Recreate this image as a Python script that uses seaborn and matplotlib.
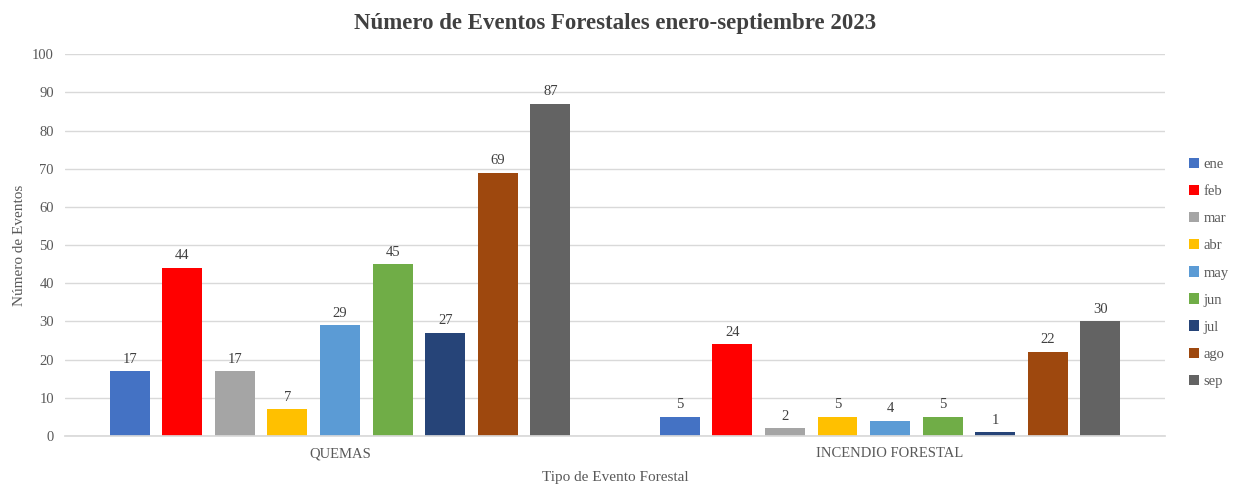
import matplotlib
matplotlib.use("Agg")
import matplotlib.pyplot as plt
import seaborn as sns
import pandas as pd

categories = ["QUEMAS", "INCENDIO FORESTAL"]
months = ["ene", "feb", "mar", "abr", "may", "jun", "jul", "ago", "sep"]
quemas = [17, 44, 17, 7, 29, 45, 27, 69, 87]
incendio = [5, 24, 2, 5, 4, 5, 1, 22, 30]
colors = ["#4472C4", "#FF0000", "#A5A5A5", "#FFC000", "#5B9BD5",
          "#70AD47", "#264478", "#9E480E", "#636363"]

rows = []
for m, q, i in zip(months, quemas, incendio):
    rows.append({"Tipo": categories[0], "Mes": m, "Valor": q})
    rows.append({"Tipo": categories[1], "Mes": m, "Valor": i})
df = pd.DataFrame(rows)

sns.set_theme(style="white")
plt.rcParams["font.family"] = ["Liberation Serif", "DejaVu Serif"]

fig = plt.figure(figsize=(12.36, 4.88), dpi=100)
ax = fig.add_axes([0.0526, 0.1066, 0.89, 0.7824])

sns.barplot(data=df, x="Tipo", y="Valor", hue="Mes", order=categories,
            hue_order=months, palette=colors, width=0.86, gap=0.24,
            saturation=1, linewidth=0, ax=ax, legend=True)

for cont in ax.containers:
    ax.bar_label(cont, padding=4, fontsize=10.5, color="#404040")

ax.set_ylim(0, 100)
ax.set_yticks(range(0, 101, 10))
ax.yaxis.grid(True, color="#D9D9D9", linewidth=1)
ax.set_axisbelow(True)
for s in ["top", "right", "left"]:
    ax.spines[s].set_visible(False)
ax.spines["bottom"].set_color("#D9D9D9")
ax.tick_params(axis="both", length=0, labelsize=10.5, labelcolor="#595959", pad=8)
ax.set_xlabel("Tipo de Evento Forestal", fontsize=11, color="#595959", labelpad=8)
ax.set_ylabel("Número de Eventos", fontsize=11, color="#595959", labelpad=4)
ax.set_title("Número de Eventos Forestales enero-septiembre 2023",
             fontsize=16.5, fontweight="bold", color="#404040", pad=18)

leg = ax.legend(loc="center left", bbox_to_anchor=(1.01, 0.427), frameon=False,
                fontsize=10.5, handlelength=0.7, handleheight=0.7,
                handletextpad=0.3, labelspacing=0.95)
for t in leg.get_texts():
    t.set_color("#595959")

fig.savefig("out.png", dpi=100)
